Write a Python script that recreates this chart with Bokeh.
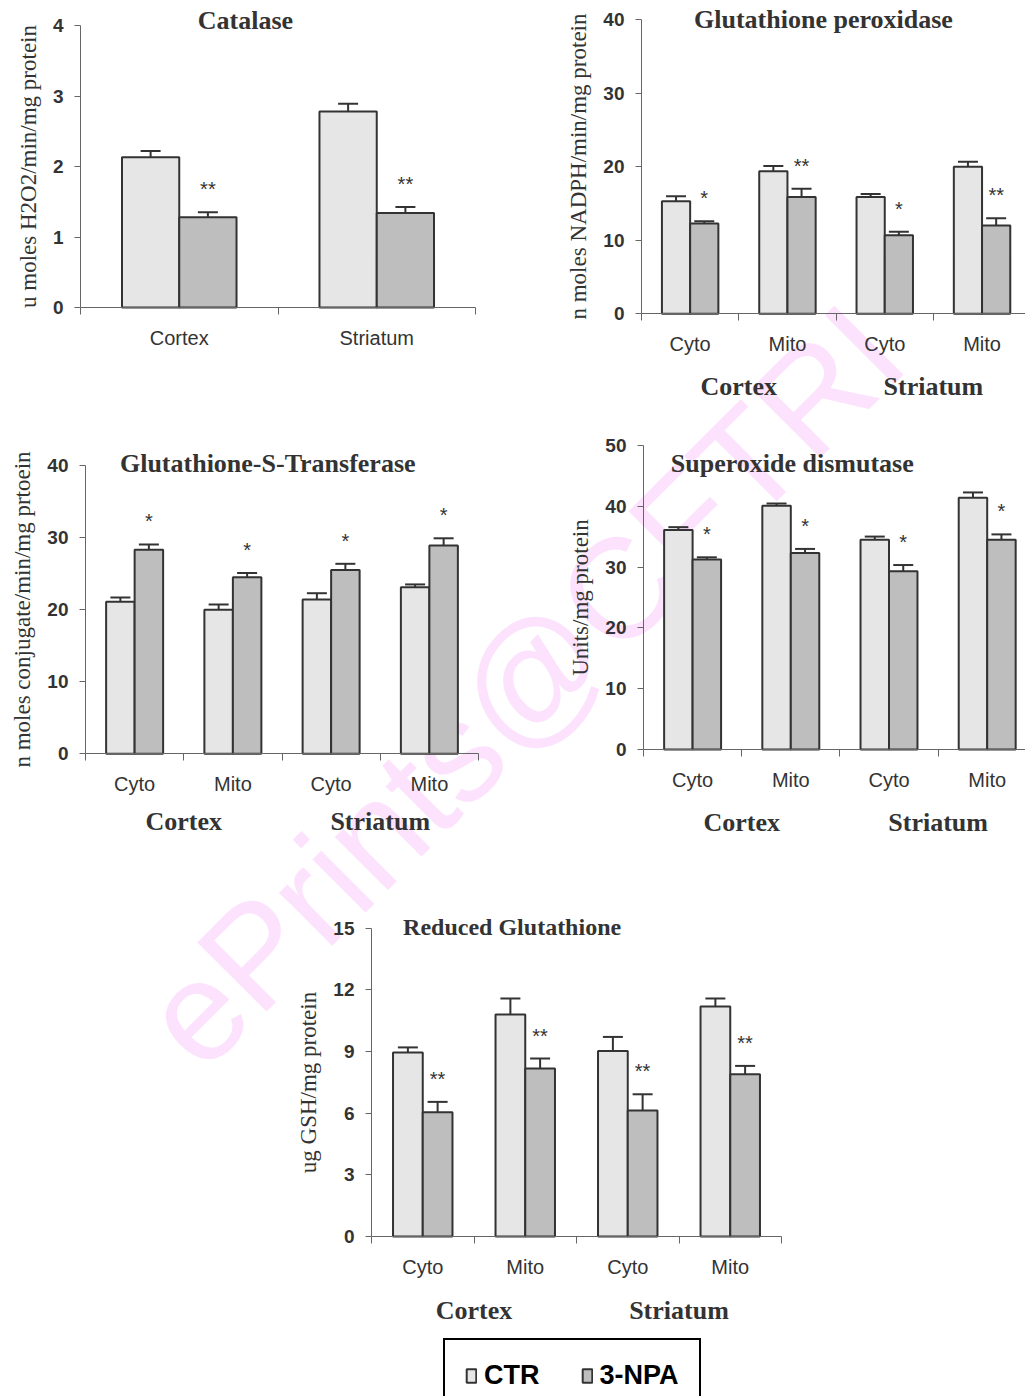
from bokeh.plotting import figure
from bokeh.models import (ColumnDataSource, Range1d, FixedTicker, LinearAxis, Whisker,
                          TeeHead, Label, Legend, LegendItem)
from bokeh.embed import file_html
from bokeh.resources import INLINE
from bokeh.core.properties import value

# ---------------- data ----------------
fractions = ["Cyto", "Mito", "Cyto", "Mito"]
regions = ["Cortex", "Striatum"]
treatments = ["CTR", "3-NPA"]

catalase_ctr = [2.13, 2.78]
catalase_ctr_err = [0.09, 0.11]
catalase_npa = [1.28, 1.34]
catalase_npa_err = [0.07, 0.085]
catalase_sig = ["**", "**"]

gpx_ctr = [15.3, 19.4, 15.9, 20.0]
gpx_ctr_err = [0.7, 0.7, 0.4, 0.68]
gpx_npa = [12.3, 15.9, 10.7, 12.0]
gpx_npa_err = [0.3, 1.1, 0.45, 1.0]
gpx_sig = ["*", "**", "*", "**"]

gst_ctr = [21.1, 20.0, 21.4, 23.1]
gst_ctr_err = [0.58, 0.7, 0.88, 0.4]
gst_npa = [28.3, 24.5, 25.5, 28.9]
gst_npa_err = [0.74, 0.58, 0.86, 1.0]
gst_sig = ["*", "*", "*", "*"]

sod_ctr = [36.1, 40.1, 34.5, 41.4]
sod_ctr_err = [0.47, 0.36, 0.52, 0.88]
sod_npa = [31.25, 32.3, 29.3, 34.5]
sod_npa_err = [0.36, 0.69, 1.04, 0.88]
sod_sig = ["*", "*", "*", "*"]

gsh_ctr = [8.95, 10.8, 9.03, 11.19]
gsh_ctr_err = [0.25, 0.78, 0.68, 0.39]
gsh_npa = [6.05, 8.17, 6.13, 7.9]
gsh_npa_err = [0.5, 0.49, 0.79, 0.4]
gsh_sig = ["**", "**", "**", "**"]

# ---------------- styling ----------------
PAGE_W, PAGE_H = 1025, 1396
TEXT = "#333333"
AXIS = "#666666"
EDGE = "#333333"
CTR_FILL = "#e6e6e6"
NPA_FILL = "#bebebe"
SANS = "Liberation Sans"
SERIF = "Liberation Serif"
BAR_W = 0.29

WATERMARK = "ePrints@CFTRI"
WM_POS = (167, 1040)      # baseline start of the watermark, page pixels
WM_SIZE = "142px"
WM_COLOR = "#fce2fc"

# panel frames on the page (pixels): left, right, top, bottom
panels = [
    dict(key="cat", box=(80, 475, 25, 307), cats=regions, groups=None,
         ctr=catalase_ctr, ctr_err=catalase_ctr_err, npa=catalase_npa,
         npa_err=catalase_npa_err, sig=catalase_sig, yticks=[0, 1, 2, 3, 4],
         ylabel="u moles H2O2/min/mg protein", title="Catalase",
         title_x=0.835, title_dy=5.5, title_size="26px", group_standoff=58),
    dict(key="gpx", box=(641, 641 + 4 * 97.3, 19.3, 313.3), cats=fractions, groups=regions,
         ctr=gpx_ctr, ctr_err=gpx_ctr_err, npa=gpx_npa, npa_err=gpx_npa_err, sig=gpx_sig,
         yticks=[0, 10, 20, 30, 40], ylabel="n moles NADPH/min/mg protein",
         title="Glutathione peroxidase", title_x=1.87, title_dy=0, title_size="26px",
         group_standoff=58),
    dict(key="gst", box=(85, 478, 465, 753.3), cats=fractions, groups=regions,
         ctr=gst_ctr, ctr_err=gst_ctr_err, npa=gst_npa, npa_err=gst_npa_err, sig=gst_sig,
         yticks=[0, 10, 20, 30, 40], ylabel="n moles conjugate/min/mg prtoein",
         title="Glutathione-S-Transferase", title_x=1.855, title_dy=2.5, title_size="26px",
         group_standoff=53),
    dict(key="sod", box=(643, 643 + 4 * 98.2, 445, 749), cats=fractions, groups=regions,
         ctr=sod_ctr, ctr_err=sod_ctr_err, npa=sod_npa, npa_err=sod_npa_err, sig=sod_sig,
         yticks=[0, 10, 20, 30, 40, 50], ylabel="Units/mg protein",
         title="Superoxide dismutase", title_x=1.515, title_dy=-17.5, title_size="26px",
         group_standoff=58),
    dict(key="gsh", box=(371, 781, 927.7, 1236), cats=fractions, groups=regions,
         ctr=gsh_ctr, ctr_err=gsh_ctr_err, npa=gsh_npa, npa_err=gsh_npa_err, sig=gsh_sig,
         yticks=[0, 3, 6, 9, 12, 15], ylabel="ug GSH/mg protein",
         title="Reduced Glutathione", title_x=1.372, title_dy=1.7, title_size="24px",
         group_standoff=59),
]

# one page-sized canvas; every panel gets its own pair of ranges
p = figure(width=PAGE_W, height=PAGE_H, x_range=Range1d(0, PAGE_W), y_range=Range1d(PAGE_H, 0),
           x_axis_location=None, y_axis_location=None, min_border=0,
           output_backend="svg", toolbar_location=None)
p.outline_line_color = None
p.background_fill_color = "white"
p.border_fill_color = "white"
p.grid.visible = False

# pale watermark behind everything
p.add_layout(Label(x=WM_POS[0], y=WM_POS[1], text=WATERMARK, angle=45, angle_units="deg",
                   text_font=SANS, text_font_size=WM_SIZE, text_color=WM_COLOR,
                   text_align="left", text_baseline="alphabetic", level="image"))

legend_renderers = None
for cfg in panels:
    L, R, T, B = cfg["box"]
    n = len(cfg["cats"])
    ymax = cfg["yticks"][-1]
    sx = (R - L) / n
    sy = (B - T) / ymax
    xr, yr = cfg["key"] + "_x", cfg["key"] + "_y"
    p.extra_x_ranges[xr] = Range1d(-L / sx, (PAGE_W - L) / sx)
    p.extra_y_ranges[yr] = Range1d(-(PAGE_H - B) / sy, ymax + T / sy)
    rn = dict(x_range_name=xr, y_range_name=yr)

    centers = [i + 0.5 for i in range(n)]
    src_ctr = ColumnDataSource(dict(
        x=[c - BAR_W / 2 for c in centers], top=cfg["ctr"],
        upper=[v + e for v, e in zip(cfg["ctr"], cfg["ctr_err"])],
        lower=[v - e for v, e in zip(cfg["ctr"], cfg["ctr_err"])]))
    src_npa = ColumnDataSource(dict(
        x=[c + BAR_W / 2 for c in centers], top=cfg["npa"],
        upper=[v + e for v, e in zip(cfg["npa"], cfg["npa_err"])],
        lower=[v - e for v, e in zip(cfg["npa"], cfg["npa_err"])], sig=cfg["sig"]))

    r_ctr = p.vbar(x="x", top="top", bottom=0, width=BAR_W, source=src_ctr,
                   fill_color=CTR_FILL, line_color=EDGE, line_width=2, **rn)
    r_npa = p.vbar(x="x", top="top", bottom=0, width=BAR_W, source=src_npa,
                   fill_color=NPA_FILL, line_color=EDGE, line_width=2, **rn)
    if cfg["key"] == "gsh":
        legend_renderers = (r_ctr, r_npa)
    for src in (src_ctr, src_npa):
        p.add_layout(Whisker(source=src, base="x", upper="upper", lower="lower",
                             dimension="height", line_color=EDGE, line_width=2,
                             upper_head=TeeHead(size=20, line_color=EDGE, line_width=2),
                             lower_head=TeeHead(size=20, line_color=EDGE, line_width=2), **rn))
    p.text(x="x", y="upper", text="sig", source=src_npa, text_align="center",
           text_baseline="middle", y_offset=-23, text_font=value(SANS),
           text_font_size=value("20px"), text_color=TEXT, **rn)

    # value axis
    ya = LinearAxis(fixed_location=0, bounds=(0, ymax),
                    ticker=FixedTicker(ticks=cfg["yticks"], minor_ticks=[]), **rn)
    ya.axis_line_color = AXIS
    ya.major_tick_line_color = AXIS
    ya.major_tick_out = 6
    ya.major_tick_in = 0
    ya.minor_tick_out = 0
    ya.major_label_standoff = 11
    ya.major_label_text_font = SANS
    ya.major_label_text_font_style = "bold"
    ya.major_label_text_font_size = "19px"
    ya.major_label_text_color = TEXT
    ya.axis_label = cfg["ylabel"]
    ya.axis_label_text_font = SERIF
    ya.axis_label_text_font_style = "normal"
    ya.axis_label_text_font_size = "23px"
    ya.axis_label_text_color = TEXT
    ya.axis_label_standoff = 9
    p.add_layout(ya, "left")

    # category axis: names at centres, ticks on boundaries
    xa = LinearAxis(fixed_location=0, bounds=(0, n),
                    ticker=FixedTicker(ticks=centers, minor_ticks=list(range(n + 1))),
                    major_label_overrides={c: lab for c, lab in zip(centers, cfg["cats"])}, **rn)
    xa.axis_line_color = AXIS
    xa.major_tick_out = 0
    xa.major_tick_in = 0
    xa.minor_tick_out = 7
    xa.minor_tick_in = 0
    xa.minor_tick_line_color = AXIS
    xa.major_label_standoff = 12
    xa.major_label_text_font = SANS
    xa.major_label_text_font_size = "20px"
    xa.major_label_text_color = TEXT
    p.add_layout(xa, "below")

    if cfg["groups"]:
        gpos = [1.0, 3.0]
        ga = LinearAxis(fixed_location=0, ticker=FixedTicker(ticks=gpos, minor_ticks=[]),
                        major_label_overrides={g: lab for g, lab in zip(gpos, cfg["groups"])},
                        **rn)
        ga.axis_line_color = None
        ga.major_tick_line_color = None
        ga.minor_tick_line_color = None
        ga.major_tick_out = 0
        ga.major_tick_in = 0
        ga.major_label_standoff = cfg["group_standoff"]
        ga.major_label_text_font = SERIF
        ga.major_label_text_font_style = "bold"
        ga.major_label_text_font_size = "26px"
        ga.major_label_text_color = TEXT
        p.add_layout(ga, "below")

    p.add_layout(Label(x=cfg["title_x"], y=ymax, text=cfg["title"], y_offset=cfg["title_dy"],
                       text_font=SERIF, text_font_style="bold",
                       text_font_size=cfg["title_size"], text_color=TEXT,
                       text_align="center", text_baseline="middle", **rn))

leg = Legend(items=[LegendItem(label=treatments[0], renderers=[legend_renderers[0]]),
                    LegendItem(label=treatments[1], renderers=[legend_renderers[1]])],
             orientation="horizontal", location=(443, -17),
             border_line_color="black", border_line_width=2, border_line_alpha=1,
             background_fill_color="white", background_fill_alpha=1,
             padding=20, spacing=41, label_standoff=7, glyph_width=12, glyph_height=17,
             label_text_font=SANS, label_text_font_style="bold",
             label_text_font_size="27px", label_text_color="black", margin=0)
p.add_layout(leg)

open("out.html", "w").write(file_html(p, INLINE))
